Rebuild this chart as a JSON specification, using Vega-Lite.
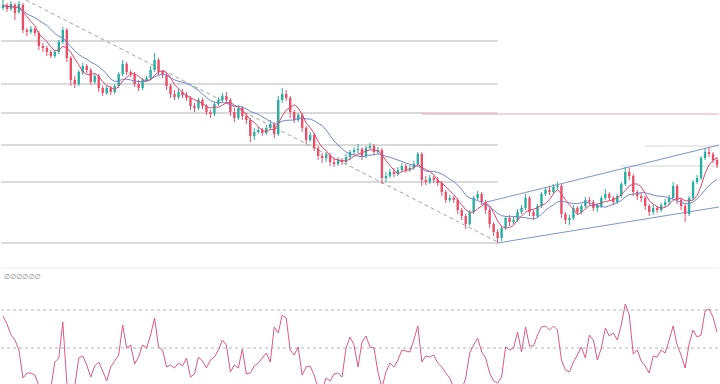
{
  "$schema": "https://vega.github.io/schema/vega-lite/v6.json",
  "width": 720,
  "height": 384,
  "padding": 0,
  "autosize": {"type": "fit", "contains": "padding"},
  "background": "white",
  "config": {"view": {"stroke": null}},
  "datasets": {
    "k": [
      {"t":0,"o":292,"h":300,"l":290,"c":295,"r":68},
      {"t":1,"o":295,"h":297,"l":288,"c":291,"r":60},
      {"t":2,"o":291,"h":299,"l":289,"c":296,"r":49},
      {"t":3,"o":295,"h":297,"l":280,"c":287,"r":44},
      {"t":4,"o":288,"h":299,"l":286,"c":296,"r":34},
      {"t":5,"o":295,"h":297,"l":267,"c":270,"r":6},
      {"t":6,"o":270,"h":272,"l":264,"c":268,"r":11},
      {"t":7,"o":268,"h":274,"l":266,"c":271,"r":11},
      {"t":8,"o":271,"h":273,"l":264,"c":267,"r":9},
      {"t":9,"o":267,"h":269,"l":250,"c":254,"r":-2},
      {"t":10,"o":254,"h":257,"l":248,"c":252,"r":-6},
      {"t":11,"o":252,"h":254,"l":244,"c":248,"r":-6},
      {"t":12,"o":248,"h":250,"l":242,"c":244,"r":-4},
      {"t":13,"o":244,"h":250,"l":242,"c":248,"r":22},
      {"t":14,"o":248,"h":260,"l":246,"c":258,"r":26},
      {"t":15,"o":258,"h":273,"l":256,"c":270,"r":62},
      {"t":16,"o":270,"h":272,"l":238,"c":242,"r":1},
      {"t":17,"o":242,"h":244,"l":214,"c":220,"r":-6},
      {"t":18,"o":220,"h":224,"l":212,"c":216,"r":-2},
      {"t":19,"o":216,"h":230,"l":214,"c":228,"r":26},
      {"t":20,"o":228,"h":237,"l":225,"c":234,"r":28},
      {"t":21,"o":234,"h":236,"l":227,"c":230,"r":19},
      {"t":22,"o":230,"h":232,"l":215,"c":218,"r":7},
      {"t":23,"o":218,"h":226,"l":216,"c":224,"r":18},
      {"t":24,"o":224,"h":226,"l":208,"c":212,"r":22},
      {"t":25,"o":212,"h":214,"l":204,"c":207,"r":13},
      {"t":26,"o":207,"h":214,"l":205,"c":212,"r":3},
      {"t":27,"o":212,"h":214,"l":205,"c":208,"r":17},
      {"t":28,"o":208,"h":216,"l":206,"c":214,"r":23},
      {"t":29,"o":214,"h":228,"l":212,"c":226,"r":29},
      {"t":30,"o":226,"h":240,"l":224,"c":236,"r":59},
      {"t":31,"o":236,"h":238,"l":225,"c":228,"r":36},
      {"t":32,"o":228,"h":230,"l":223,"c":226,"r":39},
      {"t":33,"o":226,"h":228,"l":213,"c":216,"r":20},
      {"t":34,"o":216,"h":220,"l":209,"c":212,"r":27},
      {"t":35,"o":212,"h":222,"l":210,"c":220,"r":39},
      {"t":36,"o":220,"h":224,"l":218,"c":222,"r":36},
      {"t":37,"o":222,"h":234,"l":220,"c":230,"r":49},
      {"t":38,"o":230,"h":247,"l":228,"c":240,"r":66},
      {"t":39,"o":240,"h":242,"l":225,"c":228,"r":37},
      {"t":40,"o":228,"h":230,"l":222,"c":225,"r":34},
      {"t":41,"o":225,"h":227,"l":210,"c":214,"r":17},
      {"t":42,"o":214,"h":216,"l":202,"c":206,"r":19},
      {"t":43,"o":206,"h":210,"l":200,"c":203,"r":16},
      {"t":44,"o":203,"h":211,"l":201,"c":208,"r":21},
      {"t":45,"o":208,"h":211,"l":202,"c":205,"r":18},
      {"t":46,"o":205,"h":208,"l":199,"c":202,"r":26},
      {"t":47,"o":202,"h":204,"l":190,"c":194,"r":7},
      {"t":48,"o":194,"h":197,"l":188,"c":192,"r":10},
      {"t":49,"o":192,"h":202,"l":190,"c":200,"r":27},
      {"t":50,"o":200,"h":202,"l":191,"c":194,"r":23},
      {"t":51,"o":194,"h":196,"l":185,"c":188,"r":16},
      {"t":52,"o":188,"h":190,"l":182,"c":186,"r":24},
      {"t":53,"o":186,"h":198,"l":184,"c":196,"r":27},
      {"t":54,"o":196,"h":203,"l":194,"c":200,"r":34},
      {"t":55,"o":200,"h":207,"l":198,"c":204,"r":44},
      {"t":56,"o":204,"h":208,"l":197,"c":200,"r":39},
      {"t":57,"o":200,"h":202,"l":184,"c":188,"r":12},
      {"t":58,"o":188,"h":192,"l":178,"c":182,"r":19},
      {"t":59,"o":182,"h":195,"l":180,"c":192,"r":16},
      {"t":60,"o":192,"h":194,"l":180,"c":184,"r":35},
      {"t":61,"o":184,"h":187,"l":176,"c":180,"r":10},
      {"t":62,"o":180,"h":182,"l":158,"c":164,"r":11},
      {"t":63,"o":164,"h":172,"l":160,"c":168,"r":18},
      {"t":64,"o":168,"h":173,"l":166,"c":170,"r":21},
      {"t":65,"o":170,"h":172,"l":164,"c":167,"r":26},
      {"t":66,"o":167,"h":175,"l":165,"c":172,"r":31},
      {"t":67,"o":172,"h":180,"l":170,"c":176,"r":22},
      {"t":68,"o":176,"h":178,"l":162,"c":166,"r":57},
      {"t":69,"o":166,"h":204,"l":164,"c":200,"r":51},
      {"t":70,"o":200,"h":212,"l":197,"c":206,"r":69},
      {"t":71,"o":206,"h":210,"l":199,"c":202,"r":66},
      {"t":72,"o":202,"h":204,"l":182,"c":188,"r":34},
      {"t":73,"o":188,"h":190,"l":177,"c":180,"r":29},
      {"t":74,"o":180,"h":187,"l":178,"c":185,"r":37},
      {"t":75,"o":185,"h":187,"l":168,"c":172,"r":9},
      {"t":76,"o":172,"h":174,"l":156,"c":160,"r":17},
      {"t":77,"o":160,"h":168,"l":158,"c":165,"r":18},
      {"t":78,"o":165,"h":167,"l":149,"c":152,"r":9},
      {"t":79,"o":152,"h":154,"l":140,"c":144,"r":-4},
      {"t":80,"o":144,"h":147,"l":137,"c":142,"r":-6},
      {"t":81,"o":142,"h":148,"l":138,"c":145,"r":6},
      {"t":82,"o":145,"h":147,"l":134,"c":138,"r":3},
      {"t":83,"o":138,"h":141,"l":133,"c":136,"r":10},
      {"t":84,"o":136,"h":143,"l":134,"c":140,"r":11},
      {"t":85,"o":140,"h":142,"l":135,"c":138,"r":7},
      {"t":86,"o":138,"h":146,"l":136,"c":143,"r":36},
      {"t":87,"o":143,"h":150,"l":140,"c":148,"r":47},
      {"t":88,"o":148,"h":153,"l":145,"c":150,"r":39},
      {"t":89,"o":150,"h":156,"l":147,"c":151,"r":17},
      {"t":90,"o":151,"h":153,"l":140,"c":144,"r":42},
      {"t":91,"o":144,"h":154,"l":142,"c":152,"r":48},
      {"t":92,"o":152,"h":157,"l":150,"c":154,"r":37},
      {"t":93,"o":154,"h":156,"l":145,"c":148,"r":36},
      {"t":94,"o":148,"h":153,"l":146,"c":150,"r":12},
      {"t":95,"o":150,"h":152,"l":116,"c":122,"r":-4},
      {"t":96,"o":122,"h":128,"l":118,"c":124,"r":12},
      {"t":97,"o":124,"h":131,"l":122,"c":128,"r":21},
      {"t":98,"o":128,"h":132,"l":123,"c":126,"r":17},
      {"t":99,"o":126,"h":133,"l":124,"c":130,"r":24},
      {"t":100,"o":130,"h":137,"l":128,"c":134,"r":34},
      {"t":101,"o":134,"h":136,"l":127,"c":130,"r":33},
      {"t":102,"o":130,"h":135,"l":128,"c":132,"r":32},
      {"t":103,"o":132,"h":139,"l":130,"c":136,"r":44},
      {"t":104,"o":136,"h":148,"l":134,"c":146,"r":58},
      {"t":105,"o":146,"h":148,"l":114,"c":120,"r":22},
      {"t":106,"o":120,"h":124,"l":115,"c":118,"r":28},
      {"t":107,"o":118,"h":125,"l":116,"c":122,"r":27},
      {"t":108,"o":122,"h":124,"l":117,"c":120,"r":29},
      {"t":109,"o":120,"h":123,"l":114,"c":117,"r":21},
      {"t":110,"o":117,"h":119,"l":104,"c":108,"r":17},
      {"t":111,"o":108,"h":110,"l":97,"c":100,"r":11},
      {"t":112,"o":100,"h":105,"l":98,"c":102,"r":6},
      {"t":113,"o":102,"h":104,"l":97,"c":100,"r":-4},
      {"t":114,"o":100,"h":102,"l":86,"c":90,"r":-8},
      {"t":115,"o":90,"h":92,"l":80,"c":84,"r":-6},
      {"t":116,"o":84,"h":86,"l":71,"c":76,"r":6},
      {"t":117,"o":76,"h":90,"l":74,"c":88,"r":31},
      {"t":118,"o":88,"h":104,"l":86,"c":102,"r":39},
      {"t":119,"o":102,"h":109,"l":100,"c":106,"r":46},
      {"t":120,"o":106,"h":108,"l":95,"c":98,"r":32},
      {"t":121,"o":98,"h":100,"l":86,"c":90,"r":26},
      {"t":122,"o":90,"h":92,"l":72,"c":76,"r":11},
      {"t":123,"o":76,"h":78,"l":64,"c":68,"r":3},
      {"t":124,"o":68,"h":71,"l":57,"c":62,"r":1},
      {"t":125,"o":62,"h":74,"l":59,"c":72,"r":7},
      {"t":126,"o":72,"h":84,"l":70,"c":82,"r":37},
      {"t":127,"o":82,"h":85,"l":74,"c":78,"r":34},
      {"t":128,"o":78,"h":83,"l":76,"c":80,"r":36},
      {"t":129,"o":80,"h":91,"l":78,"c":88,"r":52},
      {"t":130,"o":88,"h":95,"l":86,"c":92,"r":32},
      {"t":131,"o":92,"h":106,"l":90,"c":102,"r":57},
      {"t":132,"o":102,"h":104,"l":84,"c":88,"r":38},
      {"t":133,"o":88,"h":90,"l":80,"c":84,"r":38},
      {"t":134,"o":84,"h":96,"l":82,"c":94,"r":49},
      {"t":135,"o":94,"h":108,"l":92,"c":106,"r":57},
      {"t":136,"o":106,"h":113,"l":104,"c":110,"r":58},
      {"t":137,"o":110,"h":114,"l":105,"c":108,"r":54},
      {"t":138,"o":108,"h":116,"l":106,"c":113,"r":58},
      {"t":139,"o":113,"h":118,"l":110,"c":114,"r":54},
      {"t":140,"o":114,"h":116,"l":82,"c":86,"r":24},
      {"t":141,"o":86,"h":88,"l":76,"c":80,"r":14},
      {"t":142,"o":80,"h":85,"l":75,"c":82,"r":12},
      {"t":143,"o":82,"h":95,"l":80,"c":92,"r":22},
      {"t":144,"o":92,"h":94,"l":85,"c":88,"r":29},
      {"t":145,"o":88,"h":96,"l":86,"c":94,"r":37},
      {"t":146,"o":94,"h":103,"l":92,"c":100,"r":26},
      {"t":147,"o":100,"h":103,"l":95,"c":98,"r":49},
      {"t":148,"o":98,"h":100,"l":89,"c":92,"r":44},
      {"t":149,"o":92,"h":97,"l":88,"c":94,"r":24},
      {"t":150,"o":94,"h":104,"l":92,"c":102,"r":36},
      {"t":151,"o":102,"h":111,"l":100,"c":106,"r":56},
      {"t":152,"o":106,"h":108,"l":99,"c":102,"r":48},
      {"t":153,"o":102,"h":104,"l":95,"c":98,"r":51},
      {"t":154,"o":98,"h":106,"l":96,"c":104,"r":44},
      {"t":155,"o":104,"h":118,"l":102,"c":116,"r":59},
      {"t":156,"o":116,"h":133,"l":114,"c":128,"r":80},
      {"t":157,"o":128,"h":132,"l":120,"c":124,"r":69},
      {"t":158,"o":124,"h":126,"l":104,"c":108,"r":30},
      {"t":159,"o":108,"h":110,"l":100,"c":104,"r":34},
      {"t":160,"o":104,"h":107,"l":98,"c":102,"r":23},
      {"t":161,"o":102,"h":104,"l":90,"c":94,"r":18},
      {"t":162,"o":94,"h":96,"l":84,"c":88,"r":11},
      {"t":163,"o":88,"h":95,"l":85,"c":92,"r":28},
      {"t":164,"o":92,"h":94,"l":87,"c":90,"r":27},
      {"t":165,"o":90,"h":97,"l":88,"c":95,"r":34},
      {"t":166,"o":95,"h":101,"l":93,"c":98,"r":31},
      {"t":167,"o":98,"h":105,"l":95,"c":102,"r":44},
      {"t":168,"o":102,"h":118,"l":100,"c":114,"r":58},
      {"t":169,"o":114,"h":116,"l":96,"c":100,"r":39},
      {"t":170,"o":100,"h":102,"l":90,"c":94,"r":29},
      {"t":171,"o":94,"h":96,"l":78,"c":86,"r":16},
      {"t":172,"o":86,"h":104,"l":84,"c":102,"r":40},
      {"t":173,"o":102,"h":120,"l":100,"c":118,"r":54},
      {"t":174,"o":118,"h":125,"l":116,"c":122,"r":47},
      {"t":175,"o":122,"h":144,"l":120,"c":142,"r":49},
      {"t":176,"o":142,"h":152,"l":140,"c":148,"r":73},
      {"t":177,"o":148,"h":153,"l":143,"c":146,"r":75},
      {"t":178,"o":146,"h":148,"l":137,"c":140,"r":67},
      {"t":179,"o":140,"h":143,"l":132,"c":135,"r":52}
    ]
  },
  "data": {"name": "k"},
  "layer": [
    {
      "data": {"values": [{"p":259},{"p":216},{"p":187},{"p":155},{"p":118},{"p":57}]},
      "mark": {"type": "rule", "color": "#b5b5b5", "strokeWidth": 1},
      "encoding": {
        "x": {"datum": -0.5, "type": "quantitative", "scale": {"domain": [-0.5, 179.5], "nice": false, "zero": false}, "axis": null},
        "x2": {"datum": 124},
        "y": {"field": "p", "type": "quantitative", "scale": {"domain": [-84, 300], "nice": false, "zero": false}, "axis": null}
      }
    },
    {
      "data": {"values": [{"p":186}]},
      "mark": {"type": "rule", "color": "#f0a3bf", "strokeWidth": 1.2},
      "encoding": {
        "x": {"datum": 105, "type": "quantitative", "scale": {"domain": [-0.5, 179.5], "nice": false, "zero": false}, "axis": null},
        "x2": {"datum": 179.5},
        "y": {"field": "p", "type": "quantitative", "scale": {"domain": [-84, 300], "nice": false, "zero": false}, "axis": null}
      }
    },
    {
      "data": {"values": [{"p":154,"a":161},{"p":134,"a":155}]},
      "mark": {"type": "rule", "color": "#d6d6d6", "strokeWidth": 1},
      "encoding": {
        "x": {"field": "a", "type": "quantitative", "scale": {"domain": [-0.5, 179.5], "nice": false, "zero": false}, "axis": null},
        "x2": {"datum": 179.5},
        "y": {"field": "p", "type": "quantitative", "scale": {"domain": [-84, 300], "nice": false, "zero": false}, "axis": null}
      }
    },
    {
      "data": {"values": [{"t":5.75,"p":300},{"t":124,"p":58}]},
      "mark": {"type": "line", "color": "#a3a3a3", "strokeWidth": 1, "strokeDash": [4, 3], "clip": true},
      "encoding": {
        "x": {"field": "t", "type": "quantitative", "scale": {"domain": [-0.5, 179.5], "nice": false, "zero": false}, "axis": null},
        "y": {"field": "p", "type": "quantitative", "scale": {"domain": [-84, 300], "nice": false, "zero": false}, "axis": null}
      }
    },
    {
      "data": {"values": [{"g":"u","t":121.25,"p":98},{"g":"u","t":179.5,"p":155},{"g":"l","t":124,"p":57},{"g":"l","t":179.5,"p":93}]},
      "mark": {"type": "line", "color": "#7f96cb", "strokeWidth": 1.1, "clip": true},
      "encoding": {
        "detail": {"field": "g"},
        "x": {"field": "t", "type": "quantitative", "scale": {"domain": [-0.5, 179.5], "nice": false, "zero": false}, "axis": null},
        "y": {"field": "p", "type": "quantitative", "scale": {"domain": [-84, 300], "nice": false, "zero": false}, "axis": null}
      }
    },
    {
      "mark": {"type": "rule", "strokeWidth": 1, "clip": true},
      "encoding": {
        "x": {"field": "t", "type": "quantitative", "scale": {"domain": [-0.5, 179.5], "nice": false, "zero": false}, "axis": null},
        "y": {"field": "l", "type": "quantitative", "scale": {"domain": [-84, 300], "nice": false, "zero": false}, "axis": null},
        "y2": {"field": "h"},
        "color": {"condition": {"test": "datum.c >= datum.o", "value": "#2aae9f"}, "value": "#e6506a"}
      }
    },
    {
      "mark": {"type": "rule", "strokeWidth": 2.4, "clip": true},
      "encoding": {
        "x": {"field": "t", "type": "quantitative", "scale": {"domain": [-0.5, 179.5], "nice": false, "zero": false}, "axis": null},
        "y": {"field": "o", "type": "quantitative", "scale": {"domain": [-84, 300], "nice": false, "zero": false}, "axis": null},
        "y2": {"field": "c"},
        "color": {"condition": {"test": "datum.c >= datum.o", "value": "#2aae9f"}, "value": "#e6506a"}
      }
    },
    {
      "transform": [{"window": [{"op": "mean", "field": "c", "as": "ms"}], "frame": [-11, 0], "sort": [{"field": "t", "order": "ascending"}]}],
      "mark": {"type": "line", "color": "#6f86d2", "strokeWidth": 1, "clip": true},
      "encoding": {
        "x": {"field": "t", "type": "quantitative", "scale": {"domain": [-0.5, 179.5], "nice": false, "zero": false}, "axis": null},
        "y": {"field": "ms", "type": "quantitative", "scale": {"domain": [-84, 300], "nice": false, "zero": false}, "axis": null}
      }
    },
    {
      "transform": [{"window": [{"op": "mean", "field": "c", "as": "mf"}], "frame": [-4, 0], "sort": [{"field": "t", "order": "ascending"}]}],
      "mark": {"type": "line", "color": "#e2476c", "strokeWidth": 1, "clip": true},
      "encoding": {
        "x": {"field": "t", "type": "quantitative", "scale": {"domain": [-0.5, 179.5], "nice": false, "zero": false}, "axis": null},
        "y": {"field": "mf", "type": "quantitative", "scale": {"domain": [-84, 300], "nice": false, "zero": false}, "axis": null}
      }
    },
    {
      "data": {"values": [{"v":116}]},
      "mark": {"type": "rule", "color": "#ececec", "strokeWidth": 1},
      "encoding": {
        "x": {"datum": -0.5, "type": "quantitative", "scale": {"domain": [-0.5, 179.5], "nice": false, "zero": false}, "axis": null},
        "x2": {"datum": 179.5},
        "y": {"field": "v", "type": "quantitative", "scale": {"domain": [0, 384], "nice": false, "zero": false}, "axis": null}
      }
    },
    {
      "data": {"values": [{"v":74},{"v":36}]},
      "mark": {"type": "rule", "color": "#b3b3b3", "strokeWidth": 1, "strokeDash": [3, 3]},
      "encoding": {
        "x": {"datum": -0.5, "type": "quantitative", "scale": {"domain": [-0.5, 179.5], "nice": false, "zero": false}, "axis": null},
        "x2": {"datum": 179.5},
        "y": {"field": "v", "type": "quantitative", "scale": {"domain": [0, 384], "nice": false, "zero": false}, "axis": null}
      }
    },
    {
      "mark": {"type": "line", "color": "#dc5a86", "strokeWidth": 1, "clip": true},
      "encoding": {
        "x": {"field": "t", "type": "quantitative", "scale": {"domain": [-0.5, 179.5], "nice": false, "zero": false}, "axis": null},
        "y": {"field": "r", "type": "quantitative", "scale": {"domain": [0, 384], "nice": false, "zero": false}, "axis": null}
      }
    },
    {
      "data": {"values": [{"s": "∅∅∅∅∅∅"}]},
      "mark": {"type": "text", "align": "left", "baseline": "middle", "dx": 3, "fontSize": 7, "font": "DejaVu Sans", "color": "#8a8a8a"},
      "encoding": {
        "text": {"field": "s"},
        "x": {"datum": -0.5, "type": "quantitative", "scale": {"domain": [-0.5, 179.5], "nice": false, "zero": false}, "axis": null},
        "y": {"datum": 107, "type": "quantitative", "scale": {"domain": [0, 384], "nice": false, "zero": false}, "axis": null}
      }
    }
  ],
  "resolve": {"scale": {"y": "independent"}}
}
